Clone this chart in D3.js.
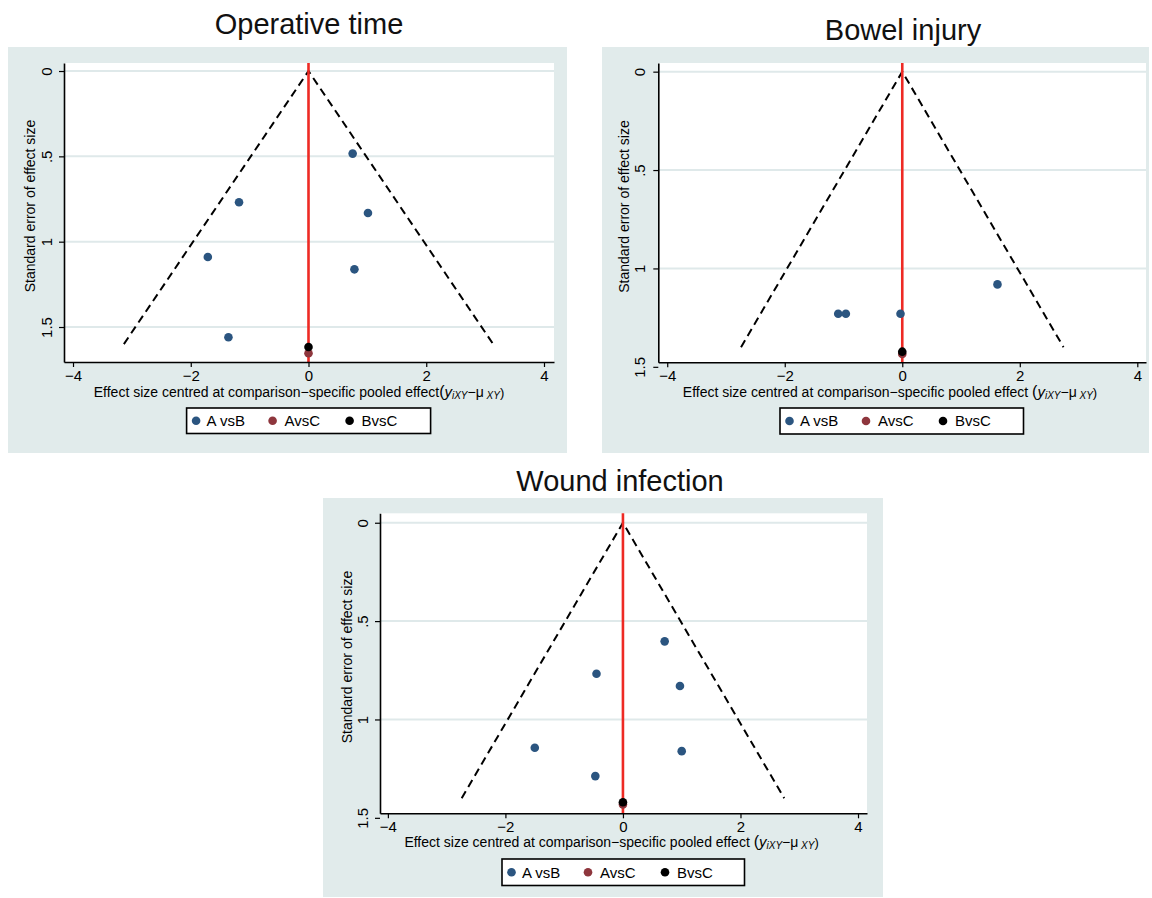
<!DOCTYPE html>
<html>
<head>
<meta charset="utf-8">
<script src="https://cdn.jsdelivr.net/npm/d3@7"></script>
<style>
  html, body { margin: 0; padding: 0; background: #ffffff; }
  svg { display: block; }
  text { font-family: "Liberation Sans", Arial, Helvetica, sans-serif; }
</style>
</head>
<body>
<svg id="chart" width="1152" height="898"></svg>
<script>
// ---------------- DATA ----------------
const titles = ["Operative time", "Bowel injury", "Wound infection"];
const seriesNames = ["A vsB", "AvsC", "BvsC"];
const xTicks = [-4, -2, 0, 2, 4];
const yTicks = [0, 0.5, 1, 1.5];
const yTickLabels = ["0", ".5", "1", "1.5"];
const funnelMaxSE = [1.6, 1.4, 1.4];

// [effect, standard error]
const opTime_AvsB = [[0.75, 0.484], [-1.18, 0.769], [1.01, 0.832], [-1.71, 1.09], [0.78, 1.162], [-1.36, 1.56]];
const opTime_AvsC = [[0, 1.654]];
const opTime_BvsC = [[0, 1.617]];

const bowel_AvsB = [[1.62, 1.081], [-1.09, 1.23], [-0.96, 1.23], [-0.03, 1.23]];
const bowel_AvsC = [[0, 1.435]];
const bowel_BvsC = [[0, 1.423]];

const wound_AvsB = [[0.71, 0.603], [-0.45, 0.768], [0.97, 0.83], [-1.5, 1.144], [1.0, 1.161], [-0.47, 1.288]];
const wound_AvsC = [[0, 1.432]];
const wound_BvsC = [[0, 1.421]];

// ---------------- STYLE / LAYOUT ----------------
const seriesColors = ["#2b5580", "#8e363d", "#000000"];
const bgColor = "#e1ebeb";
const gridColor = "#dfe9ea";

const panelData = [
  [opTime_AvsB, opTime_AvsC, opTime_BvsC],
  [bowel_AvsB, bowel_AvsC, bowel_BvsC],
  [wound_AvsB, wound_AvsC, wound_BvsC]
];

const layouts = [
  { bg: [8, 47, 567, 453], plot: [64, 63, 554, 362], xd: [-4.153, 4.17], yd: [-0.047, 1.705],
    title: [309, 33.5], ylab: [30.5, 206], ytick: 17.5, xlab: [299, 397], legend: [186.6, 408, 244, 25.5] },
  { bg: [602, 47, 1149, 453], plot: [658.3, 63, 1146, 362.3], xd: [-4.152, 4.148], yd: [-0.044, 1.477],
    title: [903, 40], ylab: [624, 206.5], ytick: 18.8, xlab: [890, 396.5], legend: [780, 408, 243.5, 26] },
  { bg: [323, 498, 883, 897], plot: [380, 513.3, 867, 813.3], xd: [-4.134, 4.153], yd: [-0.048, 1.477],
    title: [620, 491], ylab: [346.8, 657], ytick: 17, xlab: [611.6, 847], legend: [502, 859, 242.5, 26.5] }
];

const svg = d3.select("#chart");

function fmtX(d) { return d < 0 ? "\u2212" + Math.abs(d) : String(d); }

layouts.forEach((L, i) => {
  const g = svg.append("g");
  const [bx0, by0, bx1, by1] = L.bg;
  const [px0, py0, px1, py1] = L.plot;

  g.append("rect").attr("x", bx0).attr("y", by0).attr("width", bx1 - bx0).attr("height", by1 - by0)
    .attr("fill", bgColor);
  g.append("rect").attr("x", px0).attr("y", py0).attr("width", px1 - px0).attr("height", py1 - py0)
    .attr("fill", "#ffffff");

  const x = d3.scaleLinear().domain(L.xd).range([px0, px1]);
  const y = d3.scaleLinear().domain(L.yd).range([py0, py1]);

  // gridlines
  g.append("g").selectAll("line")
    .data(yTicks.filter(t => t >= L.yd[0] && t <= L.yd[1]))
    .join("line")
    .attr("x1", px0).attr("x2", px1)
    .attr("y1", d => y(d)).attr("y2", d => y(d))
    .attr("stroke", gridColor).attr("stroke-width", 2);

  // funnel
  const se = funnelMaxSE[i];
  const funnel = [[-1.96 * se, se], [0, 0], [1.96 * se, se]];
  g.append("path")
    .attr("d", d3.line().x(d => x(d[0])).y(d => y(d[1]))(funnel))
    .attr("fill", "none").attr("stroke", "#000").attr("stroke-width", 2)
    .attr("stroke-dasharray", "8,5");

  // red reference line
  g.append("line")
    .attr("x1", x(0)).attr("x2", x(0)).attr("y1", py0).attr("y2", py1)
    .attr("stroke", "#ee2a24").attr("stroke-width", 2.6);

  // points
  panelData[i].forEach((pts, s) => {
    g.append("g").selectAll("circle").data(pts).join("circle")
      .attr("cx", d => x(d[0])).attr("cy", d => y(d[1])).attr("r", 4.3)
      .attr("fill", seriesColors[s]);
  });

  // x axis
  const xAxis = g.append("g").attr("transform", `translate(0,${py1})`)
    .call(d3.axisBottom(x).tickValues(xTicks).tickFormat(fmtX).tickSize(5).tickSizeOuter(0).tickPadding(3));
  xAxis.select(".domain").attr("stroke", "#000").attr("stroke-width", 1.6);
  xAxis.selectAll(".tick line").attr("stroke", "#000").attr("stroke-width", 1.2);
  xAxis.selectAll("text").attr("font-size", 15).attr("fill", "#000")
    .style("font-family", '"Liberation Sans", Arial, sans-serif');

  // y axis
  const yAxis = g.append("g").attr("transform", `translate(${px0},0)`)
    .call(d3.axisLeft(y).tickValues(yTicks).tickFormat((d, k) => yTickLabels[k]).tickSize(5).tickSizeOuter(0));
  yAxis.select(".domain").attr("stroke", "#000").attr("stroke-width", 1.6);
  yAxis.selectAll(".tick line").attr("stroke", "#000").attr("stroke-width", 1.2);
  yAxis.selectAll("text")
    .attr("x", null).attr("dy", "0.35em")
    .attr("text-anchor", "middle")
    .attr("transform", `translate(${-L.ytick},0) rotate(-90)`)
    .attr("font-size", 15).attr("fill", "#000")
    .style("font-family", '"Liberation Sans", Arial, sans-serif');

  // title
  g.append("text").attr("x", L.title[0]).attr("y", L.title[1])
    .attr("text-anchor", "middle").attr("font-size", 29).attr("fill", "#111")
    .text(titles[i]);

  // y axis title
  g.append("text")
    .attr("transform", `translate(${L.ylab[0]},${L.ylab[1]}) rotate(-90)`)
    .attr("text-anchor", "middle").attr("dy", "0.35em")
    .attr("font-size", 14).attr("fill", "#000")
    .text("Standard error of effect size");

  // x axis title
  const xt = g.append("text").attr("x", L.xlab[0]).attr("y", L.xlab[1])
    .attr("text-anchor", "middle").attr("font-size", 14).attr("fill", "#000");
  xt.append("tspan").text("Effect size centred at comparison\u2212specific pooled effect" + (i === 0 ? "" : " "));
  xt.append("tspan").attr("font-size", 16).text("(");
  xt.append("tspan").attr("font-style", "italic").attr("font-size", 15).text("y");
  xt.append("tspan").attr("font-style", "italic").attr("font-size", 10).attr("dy", 2).text("iXY");
  xt.append("tspan").attr("dy", -2).text("\u2212\u03bc");
  xt.append("tspan").attr("font-style", "italic").attr("font-size", 10).attr("dy", 2).text(" XY");
  xt.append("tspan").attr("dy", -2).attr("font-size", 13).text(")");

  // legend
  const [lx, ly, lw, lh] = L.legend;
  const lg = g.append("g").attr("transform", `translate(${lx},${ly})`);
  lg.append("rect").attr("x", 0).attr("y", 0).attr("width", lw).attr("height", lh)
    .attr("fill", "#fff").attr("stroke", "#000").attr("stroke-width", 1.6);
  const markerOff = [9.5, 86, 163];
  const textOff = [20, 98, 175];
  seriesNames.forEach((name, s) => {
    lg.append("circle").attr("cx", markerOff[s]).attr("cy", lh / 2).attr("r", 4.3).attr("fill", seriesColors[s]);
    lg.append("text").attr("x", textOff[s]).attr("y", lh / 2).attr("dy", "0.35em")
      .attr("font-size", 15).attr("fill", "#000").text(name);
  });
});
</script>
</body>
</html>
